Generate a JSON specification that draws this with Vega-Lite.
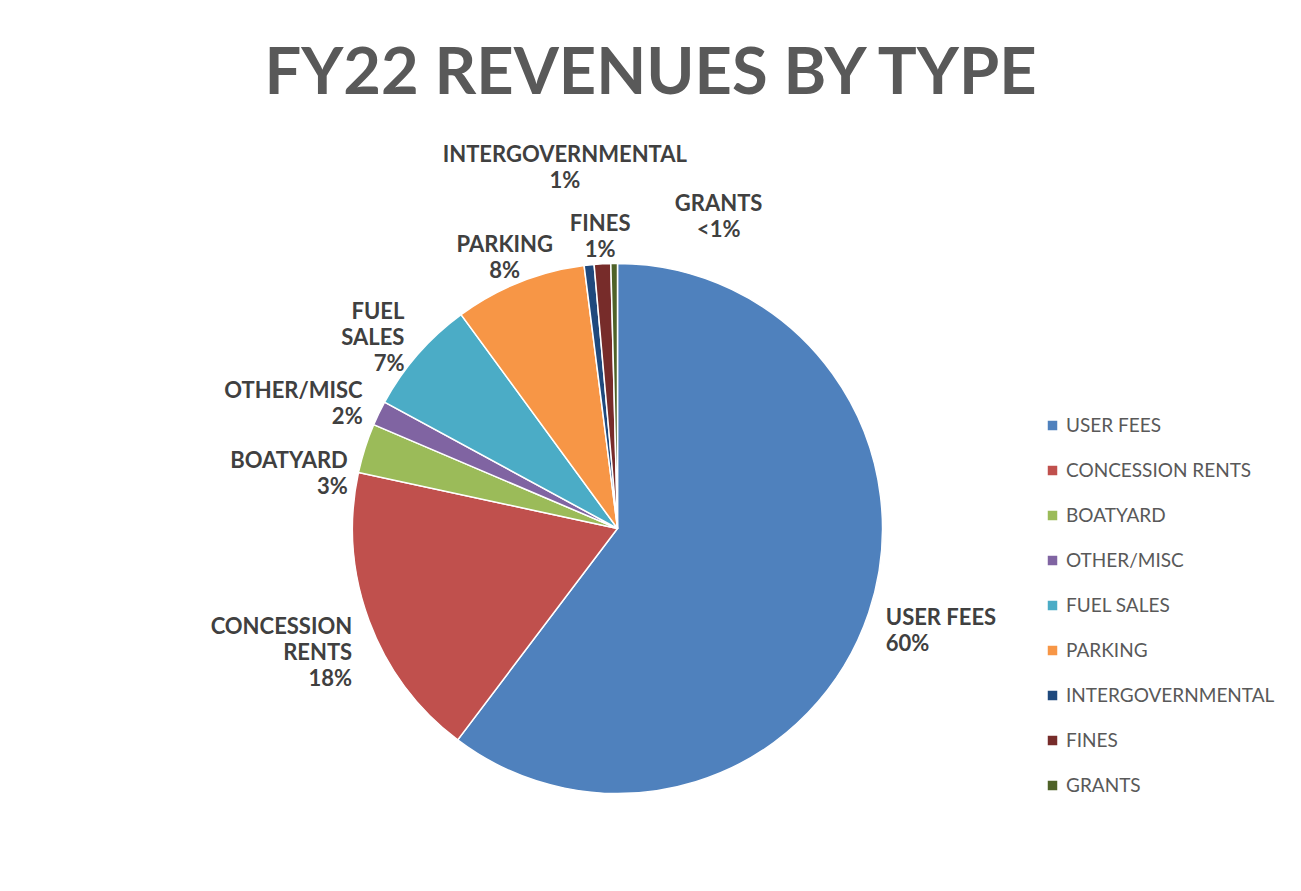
{
  "$schema": "https://vega.github.io/schema/vega-lite/v6.json",
  "width": 1301,
  "height": 891,
  "autosize": {"type": "fit", "contains": "padding"},
  "background": "white",
  "padding": {"top": 70, "left": 5, "right": 71, "bottom": 5},
  "title": {
    "text": "FY22 REVENUES BY TYPE",
    "font": "Lato",
    "fontSize": 65,
    "fontWeight": "bold",
    "color": "#595959",
    "anchor": "middle",
    "dx": 33,
    "offset": 35
  },
  "config": {"view": {"stroke": null}},
  "data": {
    "values": [
      {"category": "USER FEES", "value": 60, "order": 1, "label": "USER FEES\n60%"},
      {"category": "CONCESSION RENTS", "value": 18, "order": 2, "label": "CONCESSION\nRENTS\n18%"},
      {"category": "BOATYARD", "value": 3, "order": 3, "label": "BOATYARD\n3%"},
      {"category": "OTHER/MISC", "value": 1.5, "order": 4, "label": "OTHER/MISC\n2%"},
      {"category": "FUEL SALES", "value": 7, "order": 5, "label": "FUEL\nSALES\n7%"},
      {"category": "PARKING", "value": 8, "order": 6, "label": "PARKING\n8%"},
      {"category": "INTERGOVERNMENTAL", "value": 0.6, "order": 7, "label": "INTERGOVERNMENTAL\n1%"},
      {"category": "FINES", "value": 1, "order": 8, "label": "FINES\n1%"},
      {"category": "GRANTS", "value": 0.4, "order": 9, "label": "GRANTS\n<1%"}
    ]
  },
  "encoding": {
    "theta": {"field": "value", "type": "quantitative", "stack": true},
    "order": {"field": "order", "type": "quantitative"}
  },
  "layer": [
    {
      "mark": {"type": "arc", "outerRadius": 265, "stroke": "white", "strokeWidth": 1.5},
      "encoding": {
        "color": {
          "field": "category",
          "type": "nominal",
          "sort": ["USER FEES", "CONCESSION RENTS", "BOATYARD", "OTHER/MISC", "FUEL SALES", "PARKING", "INTERGOVERNMENTAL", "FINES", "GRANTS"],
          "scale": {
            "domain": ["USER FEES", "CONCESSION RENTS", "BOATYARD", "OTHER/MISC", "FUEL SALES", "PARKING", "INTERGOVERNMENTAL", "FINES", "GRANTS"],
            "range": ["#4F81BD", "#C0504D", "#9BBB59", "#8064A2", "#4BACC6", "#F79646", "#1F497D", "#772C2A", "#4F6228"]
          },
          "legend": {
            "orient": "none",
            "legendX": 1038,
            "legendY": 245,
            "title": null,
            "symbolType": "square",
            "symbolSize": 90,
            "symbolStrokeWidth": 0,
            "labelFont": "Lato",
            "labelFontSize": 19,
            "labelColor": "#595959",
            "rowPadding": 25,
            "labelLimit": 300
          }
        }
      }
    },
    {
      "mark": {"type": "text", "radius": 283, "align": "left", "baseline": "middle", "font": "Lato", "fontSize": 22, "fontWeight": "bold", "color": "#404040", "lineBreak": "\n", "lineHeight": 26},
      "encoding": {"text": {"condition": {"test": "datum.category === 'USER FEES'", "field": "label"}, "value": ""}}
    },
    {
      "mark": {"type": "text", "radius": 283, "align": "right", "baseline": "middle", "font": "Lato", "fontSize": 22, "fontWeight": "bold", "color": "#404040", "lineBreak": "\n", "lineHeight": 26},
      "encoding": {"text": {"condition": {"test": "datum.category === 'CONCESSION RENTS'", "field": "label"}, "value": ""}}
    },
    {
      "mark": {"type": "text", "radius": 283, "dy": 18, "align": "right", "baseline": "middle", "font": "Lato", "fontSize": 22, "fontWeight": "bold", "color": "#404040", "lineBreak": "\n", "lineHeight": 26},
      "encoding": {"text": {"condition": {"test": "datum.category === 'BOATYARD'", "field": "label"}, "value": ""}}
    },
    {
      "mark": {"type": "text", "radius": 283, "dy": -14, "align": "right", "baseline": "middle", "font": "Lato", "fontSize": 22, "fontWeight": "bold", "color": "#404040", "lineBreak": "\n", "lineHeight": 26},
      "encoding": {"text": {"condition": {"test": "datum.category === 'OTHER/MISC'", "field": "label"}, "value": ""}}
    },
    {
      "mark": {"type": "text", "radius": 283, "dy": -30, "align": "right", "baseline": "middle", "font": "Lato", "fontSize": 22, "fontWeight": "bold", "color": "#404040", "lineBreak": "\n", "lineHeight": 26},
      "encoding": {"text": {"condition": {"test": "datum.category === 'FUEL SALES'", "field": "label"}, "value": ""}}
    },
    {
      "mark": {"type": "text", "radius": 305, "align": "center", "baseline": "middle", "font": "Lato", "fontSize": 22, "fontWeight": "bold", "color": "#404040", "lineBreak": "\n", "lineHeight": 26},
      "encoding": {"text": {"condition": {"test": "datum.category === 'PARKING'", "field": "label"}, "value": ""}}
    },
    {
      "mark": {"type": "text", "radius": 305, "dy": -70, "dx": -20, "align": "center", "baseline": "middle", "font": "Lato", "fontSize": 22, "fontWeight": "bold", "color": "#404040", "lineBreak": "\n", "lineHeight": 26},
      "encoding": {"text": {"condition": {"test": "datum.category === 'INTERGOVERNMENTAL'", "field": "label"}, "value": ""}}
    },
    {
      "mark": {"type": "text", "radius": 305, "align": "center", "baseline": "middle", "font": "Lato", "fontSize": 22, "fontWeight": "bold", "color": "#404040", "lineBreak": "\n", "lineHeight": 26},
      "encoding": {"text": {"condition": {"test": "datum.category === 'FINES'", "field": "label"}, "value": ""}}
    },
    {
      "mark": {"type": "text", "radius": 305, "dx": 105, "dy": -20, "align": "center", "baseline": "middle", "font": "Lato", "fontSize": 22, "fontWeight": "bold", "color": "#404040", "lineBreak": "\n", "lineHeight": 26},
      "encoding": {"text": {"condition": {"test": "datum.category === 'GRANTS'", "field": "label"}, "value": ""}}
    }
  ]
}
